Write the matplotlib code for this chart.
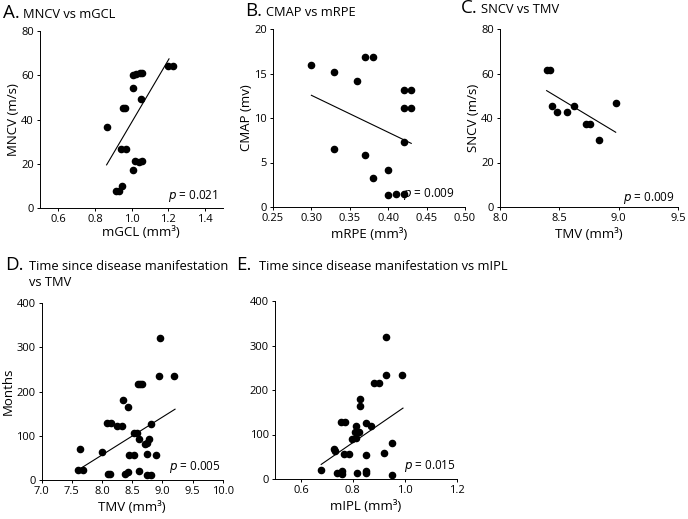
import matplotlib
matplotlib.use("Agg")
import matplotlib.pyplot as plt

plt.rcParams["font.family"] = ["Open Sans", "DejaVu Sans"]

W, H = 688, 519

# A. MNCV vs mGCL
mgcl = [0.864, 0.915, 0.933, 0.946, 0.94, 0.969, 0.951, 0.964, 1.008, 1.018,
        1.042, 1.06, 1.008, 1.008, 1.027, 1.046, 1.06, 1.05, 1.197, 1.227]
mncv = [36.8, 7.8, 7.8, 10.1, 26.8, 26.8, 45.4, 45.4, 17.3, 21.3,
        20.8, 21.3, 54.4, 60.2, 60.5, 61.2, 61.2, 49.2, 64.3, 64.3]
fit_a_x = [0.864, 1.205]
fit_a_y = [19.5, 67.4]

# B. CMAP vs mRPE
mrpe = [0.30, 0.33, 0.36, 0.37, 0.38, 0.42, 0.43, 0.42, 0.43, 0.42,
        0.33, 0.37, 0.40, 0.38, 0.40, 0.41, 0.42]
cmap = [16.0, 15.2, 14.2, 16.8, 16.8, 13.1, 13.1, 11.15, 11.15, 7.3,
        6.5, 5.8, 4.2, 3.25, 1.3, 1.5, 1.5]
fit_b_x = [0.30, 0.43]
fit_b_y = [12.55, 7.15]

# C. SNCV vs TMV
tmv_c = [8.395, 8.425, 8.435, 8.477, 8.567, 8.626, 8.725, 8.758, 8.834, 8.975]
sncv = [61.5, 61.5, 45.4, 42.9, 42.9, 45.4, 37.1, 37.1, 30.2, 46.7]
fit_c_x = [8.393, 8.975]
fit_c_y = [52.3, 33.6]

# D. Months vs TMV
tmv_d = [8.962, 8.95, 9.2, 8.60, 8.63, 8.67, 8.343, 8.426, 8.078, 8.144,
         8.24, 8.33, 8.81, 8.53, 8.575, 8.62, 8.713, 8.75, 8.785, 7.63,
         8.005, 8.453, 8.53, 8.75, 8.9, 7.607, 7.68, 8.10, 8.13, 8.38,
         8.43, 8.614, 8.75, 8.81]
months_d = [320.8, 235.4, 235.4, 217, 217, 217, 181, 164.5, 129, 128,
            122.3, 121.6, 126, 107, 107, 92, 81.5, 84.5, 92, 69.5,
            64, 57.3, 57.3, 58.9, 55.9, 22.6, 22.6, 13.6, 12.9, 14.3,
            18.8, 19.6, 11.3, 11.3]
fit_d_x = [7.647, 9.21]
fit_d_y = [26.4, 160]

# E. Months vs mIPL
mipl = [0.929, 0.929, 0.99, 0.88, 0.90, 0.829, 0.829, 0.754, 0.769, 0.811,
        0.85, 0.87, 0.808, 0.824, 0.798, 0.811, 0.727, 0.73, 0.766, 0.785,
        0.85, 0.919, 0.952, 0.678, 0.74, 0.758, 0.758, 0.817, 0.85, 0.85,
        0.952]
months_e = [318.5, 234, 234, 215, 215, 179.4, 163, 127, 127, 119.6,
            125.6, 119.6, 104.5, 104.5, 89.7, 92, 67.3, 62, 56.8, 56.8,
            54.5, 57.4, 80.8, 20.9, 13.5, 18.6, 11.9, 13.5, 18.6, 13.5,
            9]
fit_e_x = [0.678, 0.993]
fit_e_y = [32.8, 159.3]


def px_axes(fig, left, right, top, bottom):
    return fig.add_axes([left / W, (H - bottom) / H, (right - left) / W,
                         (bottom - top) / H])


def style(ax, xlim, xticks, ylim, yticks, xlabel, ylabel, ptext, px, py):
    ax.set_xlim(*xlim)
    ax.set_ylim(*ylim)
    ax.set_xticks(xticks)
    ax.set_yticks(yticks)
    for s in ["top", "right"]:
        ax.spines[s].set_visible(False)
    for s in ["left", "bottom"]:
        ax.spines[s].set_linewidth(0.7)
    ax.tick_params(length=2.5, width=0.7, labelsize=8, pad=2)
    ax.set_xlabel(xlabel, fontsize=9.5, labelpad=3)
    if ylabel:
        ax.set_ylabel(ylabel, fontsize=9.5, labelpad=1)
    ax.text(px, py, "$\\it{p}$ = " + ptext, transform=ax.transAxes,
            ha="right", va="baseline", fontsize=8.5)


def draw(ax, x, y, fx, fy):
    ax.scatter(x, y, s=20, color="black", zorder=3, clip_on=False)
    ax.plot(fx, fy, color="black", linewidth=0.8)


def title(fig, x, y, letter, text, x2):
    fig.text(x / W, 1 - y / H, letter, fontsize=13.5, va="baseline")
    fig.text(x2 / W, 1 - y / H, text, fontsize=9.3, va="baseline")


fig = plt.figure(figsize=(W / 100, H / 100), dpi=100)

ax = px_axes(fig, 40, 223, 31, 208)
draw(ax, mgcl, mncv, fit_a_x, fit_a_y)
style(ax, (0.5, 1.5), [0.6, 0.8, 1.0, 1.2, 1.4], (0, 80), [0, 20, 40, 60, 80],
      "mGCL (mm³)", "MNCV (m/s)", "0.021", 0.973, 0.05)
ax.xaxis.set_label_coords(0.55, -0.1)

ax = px_axes(fig, 273, 465, 29, 207)
draw(ax, mrpe, cmap, fit_b_x, fit_b_y)
style(ax, (0.25, 0.50), [0.25, 0.30, 0.35, 0.40, 0.45, 0.50], (0, 20),
      [0, 5, 10, 15, 20], "mRPE (mm³)", "CMAP (mv)", "0.009", 0.948, 0.058)
ax.set_xticklabels(["0.25", "0.30", "0.35", "0.40", "0.45", "0.50"])

ax = px_axes(fig, 500, 678, 29, 207)
draw(ax, tmv_c, sncv, fit_c_x, fit_c_y)
style(ax, (8.0, 9.5), [8.0, 8.5, 9.0, 9.5], (0, 80), [0, 20, 40, 60, 80],
      "TMV (mm³)", "SNCV (m/s)", "0.009", 0.983, 0.035)

ax = px_axes(fig, 41.7, 222.7, 303, 480)
draw(ax, tmv_d, months_d, fit_d_x, fit_d_y)
style(ax, (7.0, 10.0), [7.0, 7.5, 8.0, 8.5, 9.0, 9.5, 10.0], (0, 400),
      [0, 100, 200, 300, 400], "TMV (mm³)", "Months", "0.005", 0.989, 0.056)

ax = px_axes(fig, 275, 456.7, 301, 479)
draw(ax, mipl, months_e, fit_e_x, fit_e_y)
style(ax, (0.5, 1.2), [0.6, 0.8, 1.0, 1.2], (0, 400),
      [0, 100, 200, 300, 400], "mIPL (mm³)", None, "0.015", 0.996, 0.056)

title(fig, 3, 18.3, "A.", "MNCV vs mGCL", 22.7)
title(fig, 245, 15.7, "B.", "CMAP vs mRPE", 266)
title(fig, 461, 13.3, "C.", "SNCV vs TMV", 480.7)
title(fig, 5, 270, "D.", "Time since disease manifestation", 29.3)
fig.text(29.3 / W, 1 - 285.7 / H, "vs TMV", fontsize=9.3, va="baseline")
title(fig, 236, 270, "E.", "Time since disease manifestation vs mIPL", 259.3)

fig.savefig("out.png", dpi=100)
